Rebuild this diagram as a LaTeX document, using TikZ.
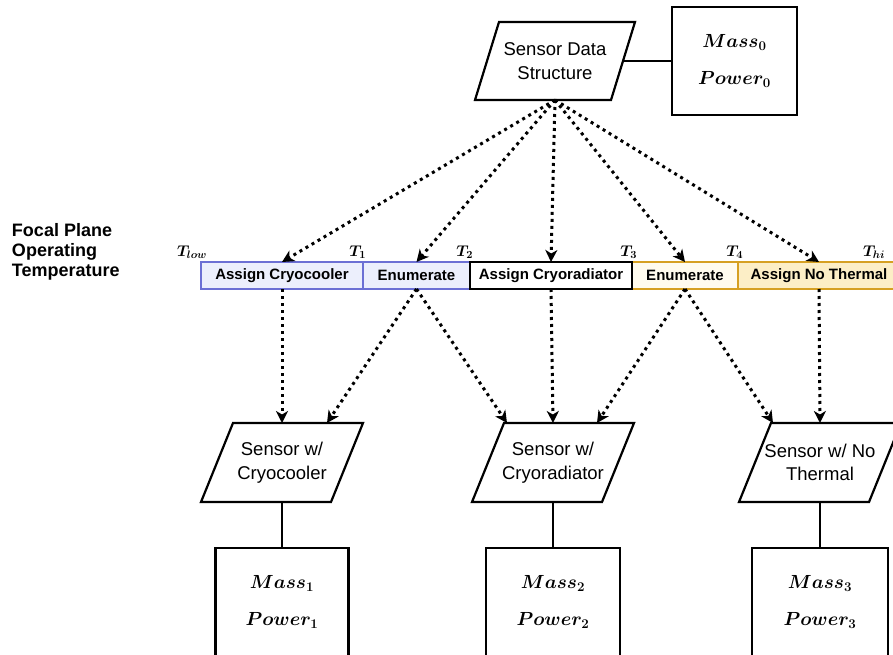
\documentclass[tikz,border=0pt]{standalone}
\usepackage{fix-cm}
\usepackage{fontspec}
\setmainfont{Liberation Sans}
\usepackage{amsmath}
\usepackage{bm}
\usetikzlibrary{arrows.meta,calc}

\definecolor{blueedge}{RGB}{108,112,212}
\definecolor{bluefill}{RGB}{236,239,252}
\definecolor{goldedge}{RGB}{214,160,34}
\definecolor{goldpale}{RGB}{255,251,238}
\definecolor{goldfill}{RGB}{252,238,198}

% parallelogram outline around a rectangular text node: #1 node, #2 half skew
\newcommand\paraframe[2]{%
  \draw[paraline] ($(#1.south west)+(-#2,0)$) -- ($(#1.south east)+(-#2,0)$)
    -- ($(#1.north east)+(#2,0)$) -- ($(#1.north west)+(#2,0)$) -- cycle;}

\begin{document}
\begin{tikzpicture}[x=1pt,y=-1pt,
  every node/.style={inner sep=0pt, outer sep=0pt},
  para/.style={minimum width=130pt, minimum height=79pt, align=center,
    font=\fontsize{18.5}{23.5}\selectfont},
  paraline/.style={draw=black, line width=2.2pt, line join=miter},
  massbox/.style={draw, line width=2.2pt, minimum width=133pt, minimum height=108pt,
    align=center, font=\fontsize{19}{37}\selectfont},
  barcell/.style={minimum height=27pt, font=\bfseries\fontsize{15}{17}\selectfont},
  bluecell/.style={barcell, draw=blueedge, fill=bluefill, line width=1.5pt},
  goldcell/.style={barcell, draw=goldedge, line width=1.8pt},
  blackcell/.style={barcell, draw=black, fill=white, line width=2.2pt},
  tlabel/.style={anchor=base east, font=\fontsize{15.5}{17}\selectfont},
  dotarrow/.style={line width=3pt, dash pattern=on 3pt off 4pt,
    -{Stealth[length=12pt,width=12pt,inset=3.5pt]}},
  link/.style={line width=2.2pt}
]
\useasboundingbox (0,0) rectangle (893,655);
\fill[white] (0,0) rectangle (893,655);
\clip (0,0) rectangle (893,655);

% top: data structure and its budget
\node[para, minimum width=136pt, minimum height=78pt] (s0) at (555,61) {Sensor Data\\Structure};
\paraframe{s0}{12}
\node[massbox, minimum width=125pt] (m0) at (734.5,61) {$\bm{Mass_0}$\\$\bm{Power_0}$};
\draw[link] (s0.east) -- (m0.west);

% temperature bar
\node[anchor=north west, align=left, font=\bfseries\fontsize{18}{20}\selectfont] (fpt)
  at (12,223) {Focal Plane\\Operating\\Temperature};
\node[bluecell, minimum width=162pt] (b1) at (282,275.5) {Assign Cryocooler};
\node[bluecell, minimum width=107pt] (b2) at (416.5,275.5) {Enumerate};
\node[goldcell, fill=goldpale, minimum width=106pt] (b4) at (685,275.5) {Enumerate};
\node[goldcell, fill=goldfill, minimum width=162pt] (b5) at (819,275.5) {Assign No Thermal};
\node[blackcell, minimum width=162pt] (b3) at (551,275.5) {Assign Cryoradiator};

\node[tlabel] (tlow) at (207,256) {$\bm{T_{low}}$};
\node[tlabel] (t1) at (366,256) {$\bm{T_1}$};
\node[tlabel] (t2) at (473,256) {$\bm{T_2}$};
\node[tlabel] (t3) at (637,256) {$\bm{T_3}$};
\node[tlabel] (t4) at (743,256) {$\bm{T_4}$};
\node[tlabel] (thi) at (885,256) {$\bm{T_{hi}}$};

% sensor variants
\node[para] (p1) at (282,462.5) {Sensor w/\\Cryocooler};
\paraframe{p1}{16}
\node[para] (p2) at (553,462.5) {Sensor w/\\Cryoradiator};
\paraframe{p2}{16}
\node[para] (p3) at (820,462.5) {Sensor w/ No\\Thermal};
\paraframe{p3}{16}

% budgets of the variants
\node[massbox, anchor=north] (m1) at (282,548) {$\bm{Mass_1}$\\$\bm{Power_1}$};
\node[massbox, anchor=north, minimum width=134pt] (m2) at (553,548) {$\bm{Mass_2}$\\$\bm{Power_2}$};
\node[massbox, anchor=north, minimum width=136pt] (m3) at (820,548) {$\bm{Mass_3}$\\$\bm{Power_3}$};
\draw[link] (p1.south) -- (m1.north);
\draw[link] (p2.south) -- (m2.north);
\draw[link] (p3.south) -- (m3.north);

% fan-out to the temperature ranges
\draw[dotarrow] (s0.south) -- (b1.north);
\draw[dotarrow] (s0.south) -- (b2.north);
\draw[dotarrow] (s0.south) -- (b3.north);
\draw[dotarrow] (s0.south) -- (b4.north);
\draw[dotarrow] (s0.south) -- (b5.north);

% ranges to sensor variants
\draw[dotarrow] (b1.south) -- (p1.north);
\draw[dotarrow] (b2.south) -- ($(p1.north)+(45,0)$);
\draw[dotarrow] (b2.south) -- ($(p2.north)+(-46,0)$);
\draw[dotarrow] (b3.south) -- (p2.north);
\draw[dotarrow] (b4.south) -- ($(p2.north)+(44,0)$);
\draw[dotarrow] (b4.south) -- ($(p3.north)+(-47,0)$);
\draw[dotarrow] (b5.south) -- (p3.north);
\end{tikzpicture}
\end{document}
